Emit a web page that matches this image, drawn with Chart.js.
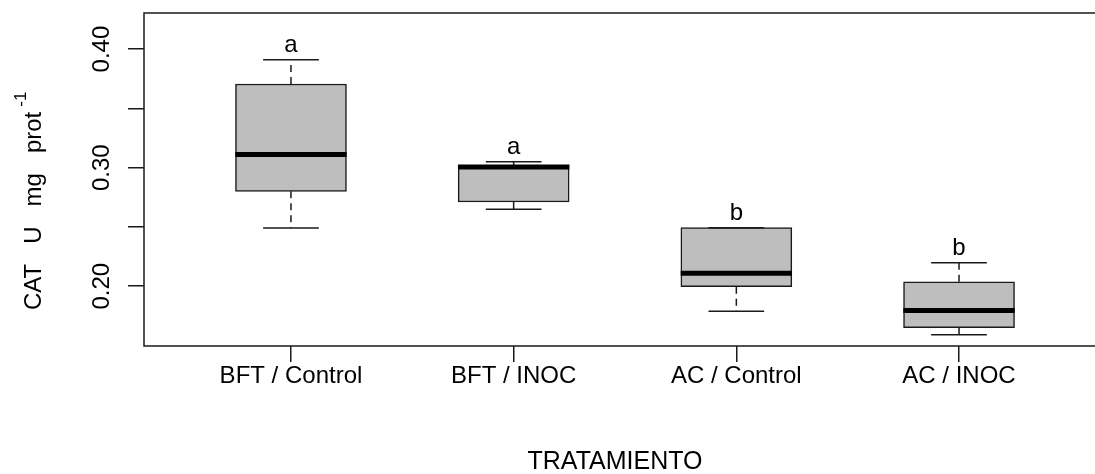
<!DOCTYPE html>
<html>
<head>
<meta charset="utf-8">
<script src="https://cdn.jsdelivr.net/npm/chart.js@4/dist/chart.umd.min.js"></script>
<style>
  html, body { margin: 0; padding: 0; background: #fff; overflow: hidden; }
  #wrap { width: 1095px; height: 474px; overflow: hidden; }
</style>
</head>
<body>
<div id="wrap"><canvas id="chart" width="1115" height="474"></canvas></div>
<script>
// values
const categories = ['BFT / Control', 'BFT / INOC', 'AC / Control', 'AC / INOC'];
const whiskerLow = [0.249, 0.265, 0.179, 0.159];
const q1 = [0.280, 0.271, 0.1996, 0.165];
const median = [0.311, 0.3005, 0.211, 0.1795];
const q3 = [0.3705, 0.302, 0.2494, 0.2038];
const whiskerHigh = [0.391, 0.305, 0.2494, 0.2198];
const letters = ['a', 'a', 'b', 'b'];
const yTicks = [0.20, 0.25, 0.30, 0.35, 0.40];
const yTickLabels = ['0.20', '', '0.30', '', '0.40'];

const FONT = '"Liberation Sans", Arial, sans-serif';
const INK = '#1a1a1a';

const boxPlugin = {
    id: 'boxExtras',
    afterDatasetsDraw(chart) {
        const ctx = chart.ctx;
        const xs = chart.scales.x;
        const ys = chart.scales.y;
        const half = xs.getPixelForValue(1.25) - xs.getPixelForValue(1);
        const capHalf = half / 2;

        ctx.save();
        categories.forEach((c, i) => {
            const x = xs.getPixelForValue(i + 1);
            const yLo = ys.getPixelForValue(whiskerLow[i]);
            const yQ1 = ys.getPixelForValue(q1[i]);
            const yMed = ys.getPixelForValue(median[i]);
            const yQ3 = ys.getPixelForValue(q3[i]);
            const yHi = ys.getPixelForValue(whiskerHigh[i]);

            // dashed whiskers
            ctx.strokeStyle = INK;
            ctx.lineWidth = 1.5;
            ctx.setLineDash([7, 5]);
            ctx.beginPath();
            ctx.moveTo(x, yQ3); ctx.lineTo(x, yHi);
            ctx.moveTo(x, yQ1); ctx.lineTo(x, yLo);
            ctx.stroke();

            // staples
            ctx.setLineDash([]);
            ctx.beginPath();
            ctx.moveTo(x - capHalf, yHi); ctx.lineTo(x + capHalf, yHi);
            ctx.moveTo(x - capHalf, yLo); ctx.lineTo(x + capHalf, yLo);
            ctx.stroke();

            // median
            ctx.strokeStyle = '#000';
            ctx.lineWidth = 5;
            ctx.beginPath();
            ctx.moveTo(x - half, yMed); ctx.lineTo(x + half, yMed);
            ctx.stroke();

            // group letters
            ctx.fillStyle = '#000';
            ctx.font = '24px ' + FONT;
            ctx.textAlign = 'center';
            ctx.textBaseline = 'alphabetic';
            ctx.fillText(letters[i], x, yHi - 8);
        });
        ctx.restore();
    },
    afterDraw(chart) {
        const ctx = chart.ctx;
        const a = chart.chartArea;
        const ys = chart.scales.y;
        ctx.save();
        // plot frame
        ctx.strokeStyle = INK;
        ctx.lineWidth = 1.5;
        ctx.strokeRect(a.left, a.top, a.right - a.left, a.bottom - a.top);

        // rotated y tick labels
        ctx.fillStyle = '#000';
        ctx.font = '24px ' + FONT;
        ctx.textAlign = 'center';
        ctx.textBaseline = 'alphabetic';
        yTicks.forEach((v, i) => {
            if (!yTickLabels[i]) return;
            ctx.save();
            ctx.translate(109, ys.getPixelForValue(v));
            ctx.rotate(-Math.PI / 2);
            ctx.fillText(yTickLabels[i], 0, 0);
            ctx.restore();
        });

        // y axis title with superscript
        ctx.save();
        ctx.translate(41, 310);
        ctx.rotate(-Math.PI / 2);
        ctx.textAlign = 'left';
        const main = 'CAT   U   mg   prot';
        ctx.fillText(main, 0, 0);
        const w = ctx.measureText(main).width;
        ctx.font = '17px ' + FONT;
        ctx.fillText('-1', w + 5, -15);
        ctx.restore();

        // x axis title
        ctx.font = '25px ' + FONT;
        ctx.textAlign = 'center';
        ctx.textBaseline = 'middle';
        ctx.fillText('TRATAMIENTO', 615, 462);
        ctx.restore();
    }
};

new Chart(document.getElementById('chart'), {
    type: 'bar',
    data: {
        datasets: [{
            data: categories.map((c, i) => ({ x: i + 1, y: [q1[i], q3[i]] })),
            backgroundColor: '#bebebe',
            borderColor: INK,
            borderWidth: 1.5,
            borderSkipped: false,
            barThickness: 111
        }]
    },
    options: {
        responsive: false,
        animation: false,
        devicePixelRatio: 1,
        events: [],
        layout: { padding: { left: 0, right: 9, top: 13, bottom: 0 } },
        plugins: { legend: { display: false }, tooltip: { enabled: false } },
        scales: {
            x: {
                type: 'linear',
                offset: false,
                min: 0.34,
                max: 4.66,
                afterBuildTicks: s => { s.ticks = categories.map((c, i) => ({ value: i + 1 })); },
                afterFit: s => { s.height = 128; },
                border: { display: false },
                grid: { offset: false, drawOnChartArea: false, drawTicks: true, tickLength: 16, color: INK, lineWidth: 1.5 },
                ticks: {
                    padding: 0,
                    maxRotation: 0,
                    autoSkip: false,
                    color: '#000',
                    font: { family: FONT, size: 24 },
                    callback: v => categories[v - 1]
                }
            },
            y: {
                type: 'linear',
                min: 0.1496,
                max: 0.4304,
                afterBuildTicks: s => { s.ticks = yTicks.map(v => ({ value: v })); },
                afterFit: s => { s.width = 144; },
                border: { display: false },
                grid: { drawOnChartArea: false, drawTicks: true, tickLength: 16, color: INK, lineWidth: 1.5 },
                ticks: { display: false }
            }
        }
    },
    plugins: [boxPlugin]
});
</script>
</body>
</html>
